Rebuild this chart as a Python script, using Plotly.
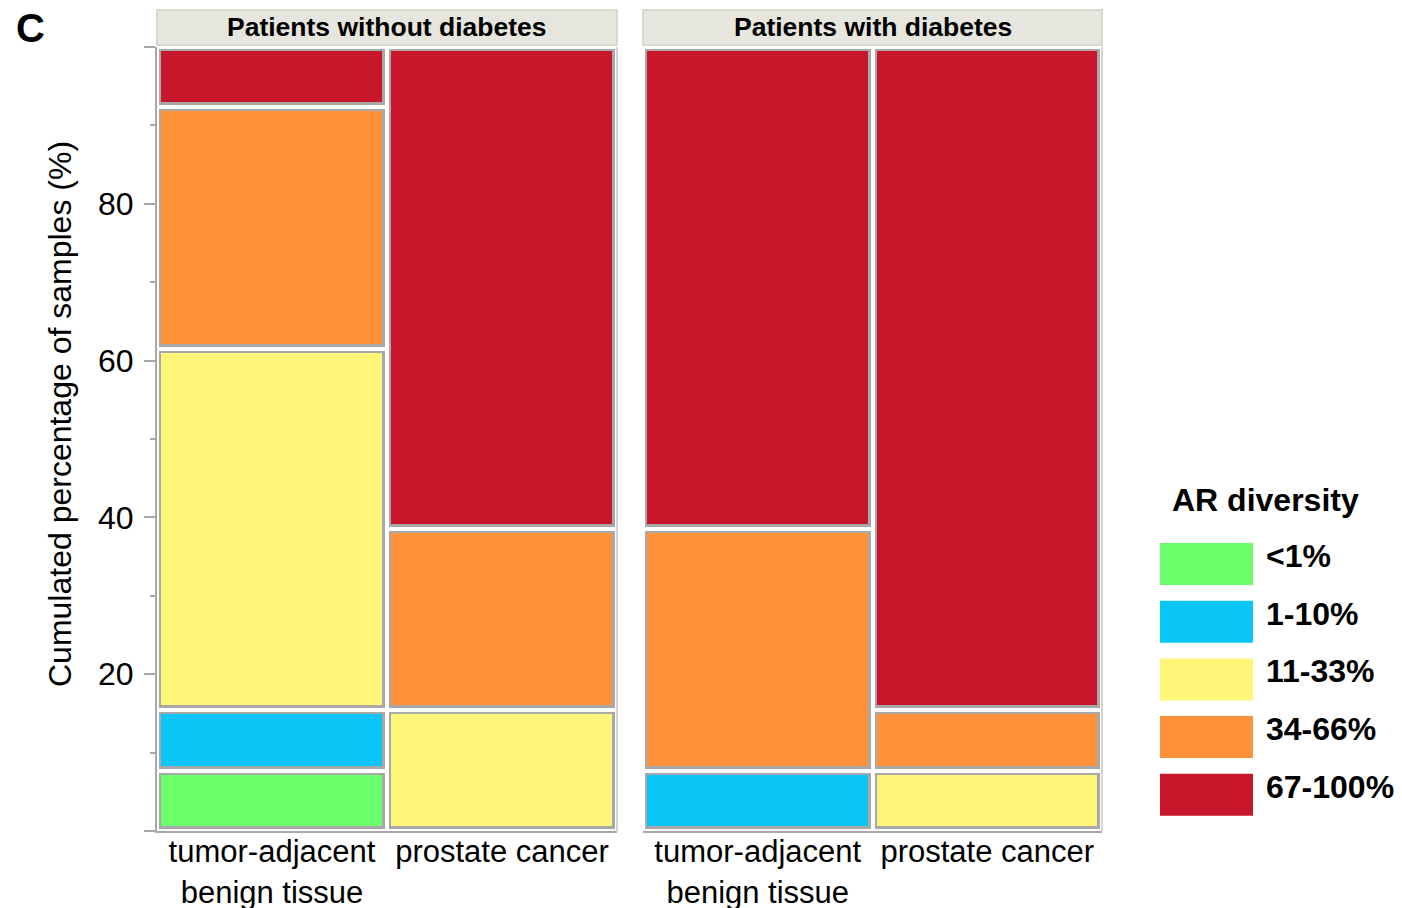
import numpy as np
import plotly.graph_objects as go

# AR diversity classes and their fill colours
classes = ["<1%", "1-10%", "11-33%", "34-66%", "67-100%"]
class_colors = ["#6BFF6B", "#08C5F5", "#FFF679", "#FF9139", "#C8172A"]

# tissue columns within each panel
tissues = ["tumor-adjacent<br>benign tissue", "prostate cancer"]

# percentage of samples per AR diversity class (order follows `classes`)
no_diab_benign = [7.7, 7.7, 46.1, 30.8, 7.7]
no_diab_cancer = [0.0, 0.0, 15.4, 23.1, 61.5]
diab_benign = [0.0, 7.7, 0.0, 30.8, 61.5]
diab_cancer = [0.0, 0.0, 7.7, 7.7, 84.6]

panel_titles = ["Patients without diabetes", "Patients with diabetes"]
panels = [(no_diab_benign, no_diab_cancer), (diab_benign, diab_cancer)]

y_ticks = [0, 20, 40, 60, 80, 100]
y_ticktext = ["", "20", "40", "60", "80", ""]
y_minor = [10, 30, 50, 70, 90]
y_title = "Cumulated percentage of samples (%)"

FONT = "Liberation Sans, Arial, sans-serif"
BORDER = "#A8A8A8"
W, H = 1402, 908
L, R, T, B = 157, 1102, 47, 831  # plot area in pixels

fig = go.Figure()

axis_names = [("x", "y"), ("x2", "y")]
for (xa, ya), cols in zip(axis_names, panels):
    vals = np.array(cols)               # shape (2 tissues, 5 classes)
    bases = np.cumsum(vals, axis=1) - vals
    for k, (cls, col) in enumerate(zip(classes, class_colors)):
        keep = vals[:, k] > 0
        fig.add_trace(go.Bar(
            x=[t for t, m in zip(tissues, keep) if m],
            y=vals[keep, k], base=bases[keep, k],
            width=1, name=cls, marker_color=col,
            marker_line=dict(color=BORDER, width=9),
            xaxis=xa, yaxis=ya, showlegend=False, hoverinfo="skip"))
    # white separators between neighbouring tiles
    nz = vals > 0
    xs, ys, bs = [], [], []
    for i, t in enumerate(tissues):
        for k in range(len(classes)):
            if nz[i, k]:
                xs.append(t); ys.append(vals[i, k]); bs.append(bases[i, k])
    fig.add_trace(go.Bar(
        x=xs, y=ys, base=bs, width=1,
        marker_color="rgba(0,0,0,0)",
        marker_line=dict(color="white", width=4),
        xaxis=xa, yaxis=ya, showlegend=False, hoverinfo="skip"))

pw = R - L
ph = B - T
d1 = (617 - L) / pw
d2 = (643 - L) / pw

xcommon = dict(
    type="category", range=[-0.5, 1.5], showline=True, linecolor=BORDER,
    linewidth=2, ticks="", showgrid=False, zeroline=False,
    tickfont=dict(family=FONT, size=31, color="black"),
    ticklabelstandoff=-8, anchor="y", fixedrange=True, automargin=False)

fig.update_layout(
    width=W, height=H,
    margin=dict(l=L, r=W - R, t=T, b=H - B, pad=0, autoexpand=False),
    paper_bgcolor="white", plot_bgcolor="white",
    barmode="overlay", bargap=0,
    font=dict(family=FONT, color="black"),
    xaxis=dict(domain=[0, d1], **xcommon),
    xaxis2=dict(domain=[d2, 1], **xcommon),
    yaxis=dict(
        range=[0, 100], showline=True, linecolor=BORDER, linewidth=2,
        showgrid=False, zeroline=False, automargin=False,
        tickmode="array", tickvals=y_ticks, ticktext=y_ticktext,
        ticks="outside", ticklen=11, tickwidth=2, tickcolor=BORDER,
        minor=dict(tickvals=y_minor, ticks="outside", ticklen=5,
                   tickwidth=2, tickcolor=BORDER),
        tickfont=dict(family=FONT, size=32, color="black"),
        ticklabelstandoff=4,
        anchor="x", fixedrange=True),
)


def px_x(px):
    return (px - L) / pw


def px_y(py):
    return (B - py) / ph


# y-axis title
fig.add_annotation(xref="paper", yref="paper", x=px_x(60), y=px_y(414),
                   text=y_title, textangle=-90, showarrow=False,
                   xanchor="center", yanchor="middle",
                   font=dict(family=FONT, size=32, color="black"))

# light frame on the right of each panel
for xd in ["x domain", "x2 domain"]:
    fig.add_shape(type="line", xref=xd, yref="y domain",
                  x0=1, x1=1, y0=0, y1=1,
                  line=dict(color="#D4D4D4", width=2), layer="above")

# panel header strips
for xd, title in zip(["x domain", "x2 domain"], panel_titles):
    fig.add_shape(type="rect", xref=xd, yref="y domain",
                  x0=0, x1=1, y0=1 + 2 / ph, y1=1 + 37 / ph,
                  fillcolor="#E6E6DF", line=dict(color="#D8D8CC", width=2),
                  layer="above")
    fig.add_annotation(xref=xd, yref="y domain", x=0.5, y=1 + 20 / ph,
                       text="<b>%s</b>" % title, showarrow=False,
                       xanchor="center", yanchor="middle",
                       font=dict(family=FONT, size=26.5, color="black"))

# panel letter
fig.add_annotation(xref="paper", yref="paper", x=px_x(14), y=px_y(28),
                   text="<b>C</b>", showarrow=False, xanchor="left",
                   yanchor="middle",
                   font=dict(family=FONT, size=40, color="black"))

# legend drawn as large colour keys
fig.add_annotation(xref="paper", yref="paper", x=px_x(1265), y=px_y(500),
                   text="<b>AR diversity</b>", showarrow=False,
                   xanchor="center", yanchor="middle",
                   font=dict(family=FONT, size=32, color="black"))
for i, (cls, col) in enumerate(zip(classes, class_colors)):
    top = 543 + i * 57.7
    fig.add_shape(type="rect", xref="paper", yref="paper",
                  x0=px_x(1160), x1=px_x(1253), y0=px_y(top + 42), y1=px_y(top),
                  fillcolor=col, line=dict(width=0))
    fig.add_annotation(xref="paper", yref="paper", x=px_x(1264),
                       y=px_y(top + 13), text="<b>%s</b>" % cls,
                       showarrow=False, xanchor="left", yanchor="middle",
                       font=dict(family=FONT, size=32, color="black"))

fig.write_html("out.html")
